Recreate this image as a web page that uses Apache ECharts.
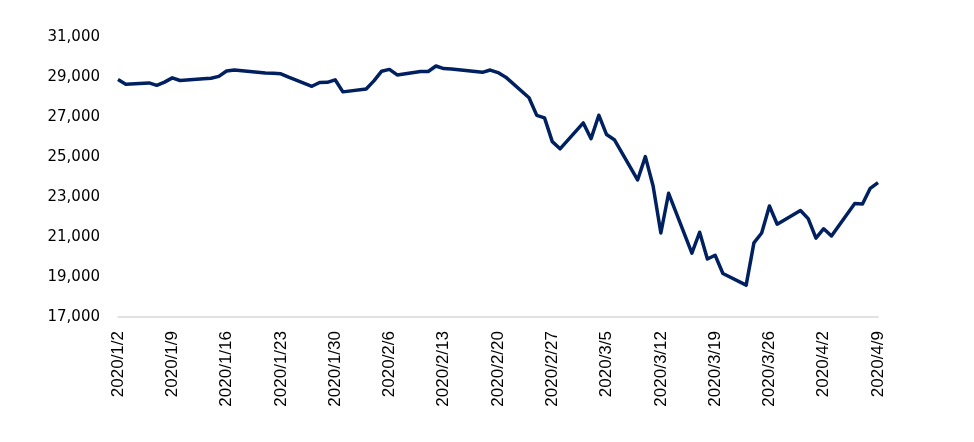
<!DOCTYPE html>
<html>
<head>
<meta charset="utf-8">
<script src="https://cdn.jsdelivr.net/npm/echarts@6/dist/echarts.min.js"></script>
<style>
html,body{margin:0;padding:0;background:#fff;}
#chart{width:974px;height:442px;}
</style>
</head>
<body>
<div id="chart"></div>
<script>
// Trading days and closing values
var tradeDates = [
 '2020/1/2','2020/1/3','2020/1/6','2020/1/7','2020/1/8','2020/1/9','2020/1/10',
 '2020/1/13','2020/1/14','2020/1/15','2020/1/16','2020/1/17',
 '2020/1/21','2020/1/22','2020/1/23','2020/1/24',
 '2020/1/27','2020/1/28','2020/1/29','2020/1/30','2020/1/31',
 '2020/2/3','2020/2/4','2020/2/5','2020/2/6','2020/2/7',
 '2020/2/10','2020/2/11','2020/2/12','2020/2/13','2020/2/14',
 '2020/2/18','2020/2/19','2020/2/20','2020/2/21',
 '2020/2/24','2020/2/25','2020/2/26','2020/2/27','2020/2/28',
 '2020/3/2','2020/3/3','2020/3/4','2020/3/5','2020/3/6',
 '2020/3/9','2020/3/10','2020/3/11','2020/3/12','2020/3/13',
 '2020/3/16','2020/3/17','2020/3/18','2020/3/19','2020/3/20',
 '2020/3/23','2020/3/24','2020/3/25','2020/3/26','2020/3/27',
 '2020/3/30','2020/3/31','2020/4/1','2020/4/2','2020/4/3',
 '2020/4/6','2020/4/7','2020/4/8','2020/4/9'
];
var closeValues = [
 28869,28635,28703,28584,28745,28957,28824,
 28907,28940,29030,29298,29348,
 29196,29186,29160,28990,
 28536,28723,28734,28859,28256,
 28400,28808,29291,29380,29103,
 29277,29276,29551,29423,29398,
 29232,29348,29220,28992,
 27961,27081,26958,25767,25409,
 26703,25917,27091,26121,25865,
 23851,25018,23553,21201,23186,
 20189,21237,19899,20087,19174,
 18592,20705,21201,22552,21637,
 22327,21917,20944,21413,21053,
 22680,22654,23434,23719
];
var tickLabels = ['2020/1/2','2020/1/9','2020/1/16','2020/1/23','2020/1/30','2020/2/6','2020/2/13',
 '2020/2/20','2020/2/27','2020/3/5','2020/3/12','2020/3/19','2020/3/26','2020/4/2','2020/4/9'];
var yMin = 17000, yMax = 31000, yStep = 2000;

// calendar-day category axis between first and last trading day
function fmt(d){return d.getUTCFullYear()+'/'+(d.getUTCMonth()+1)+'/'+d.getUTCDate();}
function parse(s){var p=s.split('/');return new Date(Date.UTC(+p[0],+p[1]-1,+p[2]));}
var start = parse(tradeDates[0]), end = parse(tradeDates[tradeDates.length-1]);
var days = [];
for (var t = start.getTime(); t <= end.getTime(); t += 86400000) days.push(fmt(new Date(t)));
var lookup = {};
tradeDates.forEach(function(d,i){lookup[d]=closeValues[i];});
var seriesData = days.map(function(d){return lookup.hasOwnProperty(d)?lookup[d]:null;});

var chart = echarts.init(document.getElementById('chart'));
chart.setOption({
  animation:false,
  backgroundColor:'#ffffff',
  grid:{left:118,right:96,top:37,bottom:125,containLabel:false},
  xAxis:{
    type:'category',
    data:days,
    boundaryGap:false,
    axisLine:{show:true,lineStyle:{color:'#d9d9d9',width:1.5}},
    axisTick:{show:false},
    splitLine:{show:false},
    axisLabel:{
      rotate:90,
      margin:14,
      interval:function(idx,val){return tickLabels.indexOf(val)>=0;},
      color:'#000000',
      fontFamily:'Liberation Sans, Arial, sans-serif',
      fontSize:17
    }
  },
  yAxis:{
    type:'value',
    min:yMin,max:yMax,interval:yStep,
    axisLine:{show:false},
    axisTick:{show:false},
    splitLine:{show:false},
    axisLabel:{
      margin:18,
      color:'#000000',
      fontFamily:'DejaVu Sans, sans-serif',
      fontSize:15,
      formatter:function(v){return v.toLocaleString('en-US');}
    }
  },
  series:[{
    type:'line',
    data:seriesData,
    connectNulls:true,
    showSymbol:false,
    symbol:'none',
    lineStyle:{color:'#002060',width:3.5,join:'round'},
    itemStyle:{color:'#002060'}
  }]
});
</script>
</body>
</html>
